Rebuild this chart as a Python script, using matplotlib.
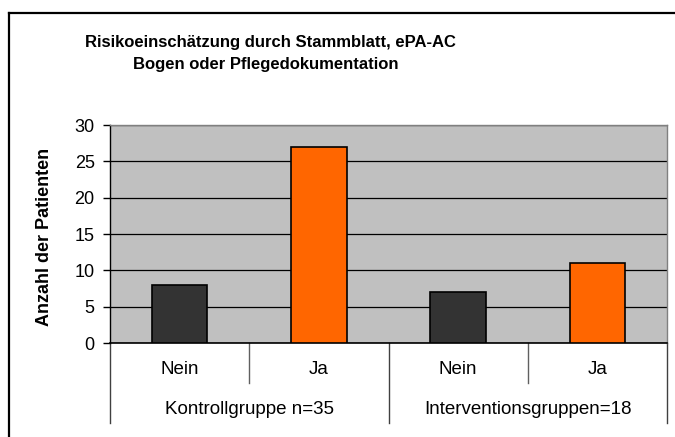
import matplotlib
matplotlib.use("Agg")
import matplotlib.pyplot as plt
from matplotlib.lines import Line2D
import matplotlib.transforms as mtransforms

plt.rcParams['font.family'] = ['Liberation Sans', 'DejaVu Sans']

title_lines = ["Risikoeinschätzung durch Stammblatt, ePA-AC", "Bogen oder Pflegedokumentation"]
categories = ["Nein", "Ja", "Nein", "Ja"]
groups = ["Kontrollgruppe n=35", "Interventionsgruppen=18"]
values = [8, 27, 7, 11]
bar_colors = ["#333333", "#FF6600", "#333333", "#FF6600"]
y_ticks = [0, 5, 10, 15, 20, 25, 30]
y_label = "Anzahl der Patienten"

W, H = 675, 437
fig = plt.figure(figsize=(W / 100, H / 100), dpi=100)
fig.patch.set_facecolor("white")

# outer frame (left and top visible, rest cut off)
fig.add_artist(Line2D([9 / W, 9 / W], [0, 1 - 13 / H], transform=fig.transFigure, color="black", lw=1.6))
fig.add_artist(Line2D([9 / W, 1], [1 - 13 / H, 1 - 13 / H], transform=fig.transFigure, color="black", lw=1.6))

left, right, top, bottom = 110, 667, 125, 343
ax = fig.add_axes([left / W, 1 - bottom / H, (right - left) / W, (bottom - top) / H])
ax.set_facecolor("#C0C0C0")

x = list(range(len(categories)))
ax.bar(x, values, width=0.40, color=bar_colors, edgecolor="black", linewidth=1.2, zorder=3)

ax.set_xlim(-0.5, len(categories) - 0.5)
ax.set_ylim(0, 30)
ax.set_yticks(y_ticks)
ax.set_yticklabels([str(t) for t in y_ticks], fontsize=13)
ax.tick_params(axis='y', direction='out', length=5, width=1, color="black", pad=6)
ax.set_xticks([])
ax.grid(axis='y', color="#000000", lw=0.9, zorder=1)
ax.set_axisbelow(True)

for s in ["top", "right"]:
    ax.spines[s].set_color("#808080")
    ax.spines[s].set_linewidth(1)
ax.spines["left"].set_color("black")
ax.spines["bottom"].set_color("black")
ax.spines["left"].set_linewidth(1)
ax.spines["bottom"].set_linewidth(1.2)

trans = mtransforms.blended_transform_factory(ax.transData, ax.transAxes)
sep_long = -(423 - bottom) / (bottom - top)
sep_short = -(383 - bottom) / (bottom - top)
n = len(categories)
for i in range(n + 1):
    xs = i - 0.5
    yb = sep_long if i % 2 == 0 else sep_short
    ax.add_line(Line2D([xs, xs], [0, yb], transform=trans, color="#404040" if i % 2 == 0 else "#606060",
                       lw=1, clip_on=False))

cat_y = -(369 - bottom) / (bottom - top)
grp_y = -(410 - bottom) / (bottom - top)
for i, c in enumerate(categories):
    ax.text(i, cat_y, c, transform=trans, ha="center", va="center", fontsize=13.5)
for g, name in enumerate(groups):
    ax.text(2 * g + 0.5, grp_y, name, transform=trans, ha="center", va="center", fontsize=13.5)

fig.text(45 / W, 1 - 237 / H, y_label, rotation=90, ha="center", va="center", fontsize=13, fontweight="bold")
fig.text(270 / W, 1 - 43 / H, title_lines[0], ha="center", va="center", fontsize=12, fontweight="bold")
fig.text(266 / W, 1 - 65 / H, title_lines[1], ha="center", va="center", fontsize=12, fontweight="bold")

fig.savefig("out.png", dpi=100)
